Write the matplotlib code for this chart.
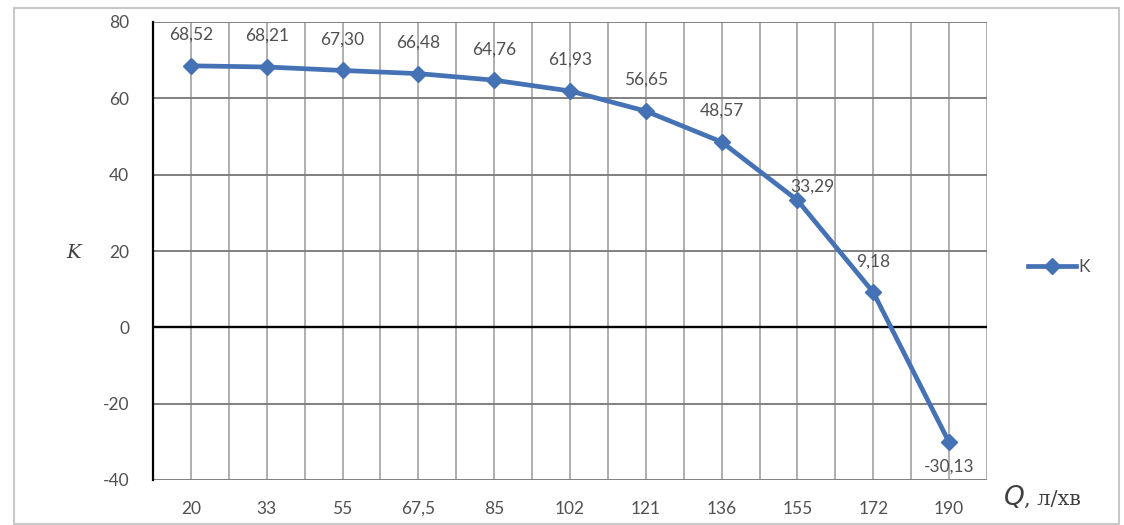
import numpy as np
import matplotlib.pyplot as plt
from matplotlib.patches import Rectangle

# витрата і коефіцієнт K
q = ['20', '33', '55', '67,5', '85', '102', '121', '136', '155', '172', '190']
k = [68.52, 68.21, 67.30, 66.48, 64.76, 61.93, 56.65, 48.57, 33.29, 9.18, -30.13]

blue = '#4472b4'
grey_txt = '#505050'

plt.rcParams['font.family'] = ['Lato', 'DejaVu Sans']
plt.rcParams['axes.unicode_minus'] = False

fig = plt.figure(figsize=(11.24, 5.25), dpi=100)
fig.patches.append(Rectangle((14/1124, 1/525), 1105/1124, 516/525, transform=fig.transFigure,
                             fill=False, edgecolor='#c8c8c8', linewidth=1.5))
ax = fig.add_axes([153/1124, 45/525, 834/1124, 458/525])

x = np.arange(len(q))
ax.plot(x, k, color=blue, linewidth=3.4, marker='D', markersize=8.5, label='K', zorder=3)

for i, v in enumerate(k):
    lab = f'{v:.2f}'.replace('.', ',')
    if v < 0:
        off = (0, -24)
    elif i == 8:
        off = (15, 14)
    else:
        off = (0, 31)
    ax.annotate(lab, (i, v), xytext=off, textcoords='offset pixels',
                ha='center', va='center', fontsize=12.5, color=grey_txt, zorder=4)

ax.set_xlim(-0.5, len(q) - 0.5)
ax.set_ylim(-40, 80)
ax.set_yticks(np.arange(-40, 81, 20))
ax.set_xticks(x)
ax.set_xticklabels(q)

# сітка: межі категорій і центри
for g in np.arange(-0.5, len(q), 0.5):
    ax.axvline(g, color='#9a9a9a', linewidth=1.1, zorder=1)
for yv in np.arange(-40, 81, 20):
    ax.axhline(yv, color='#808080' if yv != 0 else '#000000', linewidth=1.4 if yv else 1.7, zorder=1)

for s in ['top', 'right', 'bottom']:
    ax.spines[s].set_visible(False)
ax.spines['left'].set_color('#000000')
ax.spines['left'].set_linewidth(1.6)
ax.tick_params(axis='both', length=0, labelsize=12.5, colors=grey_txt)
ax.tick_params(axis='x', pad=15)
ax.tick_params(axis='y', pad=17)

fig.text(74/1124, 1 - 253/525, 'K', family='DejaVu Serif', style='italic', fontsize=14,
         color='#404040', ha='center', va='center')
fig.text(1003/1124, 1 - 497/525, r'$Q$', family='DejaVu Serif', fontsize=19,
         color='#404040', ha='left', va='center')
fig.text(1024/1124, 1 - 499/525, ', л/хв', family='DejaVu Serif', fontsize=15,
         color='#404040', ha='left', va='center')

leg = ax.legend(loc='center left', bbox_to_anchor=(1.03, 0.465), frameon=False,
                fontsize=12.5, handlelength=2.8, handletextpad=0.1, labelcolor=grey_txt)

fig.savefig('out.png', dpi=100)
